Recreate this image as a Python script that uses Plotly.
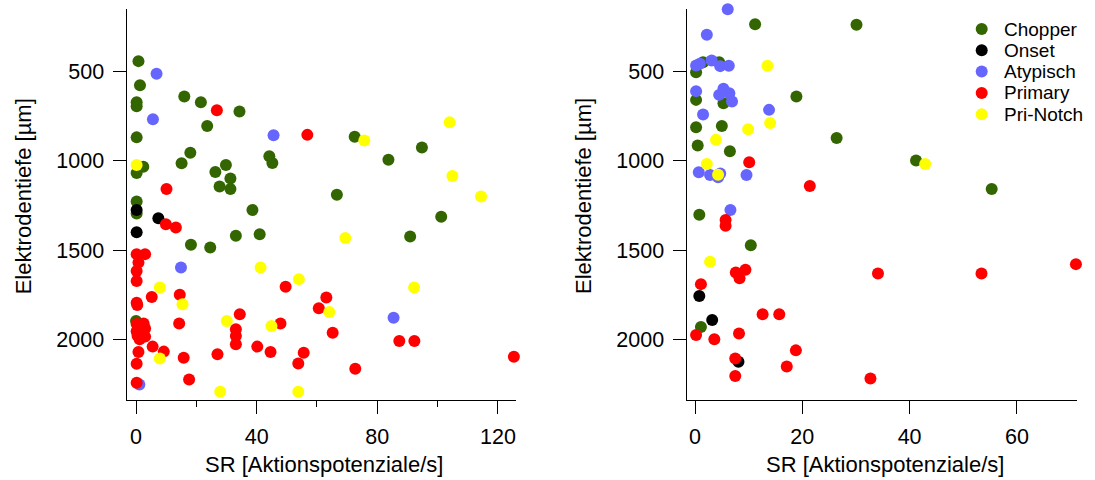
import plotly.graph_objects as go

W, H = 1095, 480
FONT = "Liberation Sans, Arial, sans-serif"

series_names = ["Chopper", "Onset", "Atypisch", "Primary", "Pri-Notch"]
series_colors = ["#336600", "#000000", "#6666FF", "#FF0000", "#FFFF00"]

# ---- left panel ----
left_chopper_x = [0.8, 1.3, 16, 21.5, 34.3, 0.2, 0.2, 23.6, 0.2, 18, 44.2, 45.2, 2.4, 0.2, 15.1, 29.8, 26.3, 31.3, 27.7, 31.3, 0.2, 38.6, 0.2, 72.5, 94.8, 83.7, 66.6, 101.2, 33.1, 41, 18.2, 24.6, 90.9, 0.0]
left_chopper_y = [442, 577, 640, 672, 724, 672, 695, 805, 869, 955, 975, 1012, 1033, 1068, 1014, 1024, 1063, 1099, 1144, 1158, 1228, 1276, 1295, 865, 926, 994, 1190, 1314, 1420, 1411, 1471, 1486, 1424, 1897]

left_onset_x = [0.2, 7.4, 0.2]
left_onset_y = [1276, 1322, 1400]

left_atyp_x = [6.8, 5.6, 45.6, 14.9, 85.4, 1.1]
left_atyp_y = [513, 768, 857, 1598, 1879, 2253]

left_prim_x = [26.8, 56.8, 10.1, 9.9, 13.2, 0.2, 3.0, 0.8, 0.2, 0.2, 49.6, 5.2, 14.5, 0.2, 0.4, 60.6, 34.4, 47.9, 14.3,
               0.2, 2.5, 0.8, 3.0, 0.2, 2.0, 0.5, 3.0, 1.2,
               33.1, 33.1, 33.1, 5.5, 9.2, 0.8, 15.8, 27, 40.2, 44.6, 55.6, 53.8, 0.2, 17.6, 0.2,
               63.1, 65.2, 87.3, 92.3, 72.7, 125.3]
left_prim_y = [717, 855, 1158, 1355, 1374, 1523, 1523, 1570, 1617, 1673, 1706, 1763, 1751, 1795, 1808, 1826, 1860, 1912, 1912,
               1915, 1912, 1935, 1940, 1955, 1960, 1980, 1985, 2000,
               1944, 1981, 2028, 2041, 2069, 2071, 2103, 2084, 2041, 2071, 2075, 2135, 2137, 2225, 2244,
               1766, 1963, 2010, 2010, 2165, 2098]

left_notch_x = [0.2, 75.7, 104, 104.9, 114.4, 41.3, 54, 7.9, 15.4, 30.1, 44.9, 7.9, 27.9, 53.8, 69.4, 92.2, 64.1]
left_notch_y = [1024, 887, 785, 1085, 1200, 1598, 1663, 1710, 1804, 1897, 1925, 2107, 2294, 2294, 1433, 1710, 1847]

# ---- right panel ----
right_chopper_x = [11.2, 30.1, 1.5, 4.5, 0.2, 0.2, 5.3, 18.9, 0.2, 5.0, 0.5, 6.5, 26.4, 41.2, 55.3, 0.8, 10.4, 1.1]
right_chopper_y = [236, 238, 448, 448, 504, 659, 678, 640, 812, 805, 915, 947, 872, 999, 1158, 1302, 1473, 1931]

right_onset_x = [0.8, 3.2, 8.1]
right_onset_y = [1757, 1892, 2126]

right_atyp_x = [6.1, 2.2, 0.2, 0.9, 3.1, 4.7, 6.3, 0.2, 5.3, 4.5, 6.4, 6.9, 13.8, 1.5, 0.7, 2.8, 4.3, 4.7, 9.6, 6.6]
right_atyp_y = [152, 294, 466, 457, 438, 470, 468, 610, 597, 631, 622, 668, 715, 741, 1065, 1080, 1093, 1071, 1080, 1276]

right_prim_x = [10.1, 21.4, 5.7, 5.7, 7.6, 8.3, 9.4, 1.1, 12.6, 15.7, 0.2, 3.6, 8.2, 18.8, 7.5, 17.1, 7.5, 34.1, 53.4, 71.0, 32.7]
right_prim_y = [1009, 1142, 1332, 1364, 1626, 1658, 1611, 1691, 1860, 1860, 1976, 2000, 1968, 2062, 2107, 2152, 2206, 1632, 1632, 1579, 2219]

right_notch_x = [13.5, 14.0, 9.9, 3.9, 2.2, 4.3, 42.9, 2.8]
right_notch_y = [468, 788, 824, 883, 1018, 1078, 1018, 1566]

x_title = "SR [Aktionspotenziale/s]"
y_title = "Elektrodentiefe [µm]"
y_tickvals = [500, 1000, 1500, 2000]
left_x_tickvals = [0, 40, 80, 120]
right_x_tickvals = [0, 20, 40, 60]

left_sets = [(left_chopper_x, left_chopper_y), (left_onset_x, left_onset_y), (left_atyp_x, left_atyp_y),
             (left_prim_x, left_prim_y), (left_notch_x, left_notch_y)]
right_sets = [(right_chopper_x, right_chopper_y), (right_onset_x, right_onset_y), (right_atyp_x, right_atyp_y),
              (right_prim_x, right_prim_y), (right_notch_x, right_notch_y)]

fig = go.Figure()
for (xs, ys), name, col in zip(left_sets, series_names, series_colors):
    fig.add_trace(go.Scatter(x=xs, y=ys, mode="markers", name=name, showlegend=False, cliponaxis=False,
                             marker=dict(size=12, color=col, line=dict(width=0)), xaxis="x", yaxis="y"))
for (xs, ys), name, col in zip(right_sets, series_names, series_colors):
    fig.add_trace(go.Scatter(x=xs, y=ys, mode="markers", name=name, showlegend=False, cliponaxis=False,
                             marker=dict(size=12, color=col, line=dict(width=0)), xaxis="x2", yaxis="y2"))

def px_x(p):
    return p / W

def px_y(p):
    return 1 - p / H

ydom = [px_y(400), px_y(9)]
common_axis = dict(showgrid=False, zeroline=False, showline=True, linecolor="black", linewidth=1.4,
                   ticks="outside", ticklen=13, tickwidth=1.4, tickcolor="black",
                   tickfont=dict(family=FONT, size=21.5, color="black"), automargin=False)

fig.update_layout(
    width=W, height=H, margin=dict(l=0, r=0, t=0, b=0),
    paper_bgcolor="white", plot_bgcolor="white", showlegend=False,
    xaxis=dict(domain=[px_x(126.7), px_x(516)], range=[-3.1, 126], tickvals=left_x_tickvals,
               minor=dict(dtick=20, tick0=0, ticklen=6, tickwidth=1.4, tickcolor="black", ticks="outside"),
               anchor="y", ticklabelstandoff=4, **common_axis),
    yaxis=dict(domain=ydom, range=[2340, 150], tickvals=y_tickvals, anchor="x", ticklabelstandoff=4, **common_axis),
    xaxis2=dict(domain=[px_x(686.7), px_x(1077)], range=[-1.55, 71.2], tickvals=right_x_tickvals,
                anchor="y2", ticklabelstandoff=4, **common_axis),
    yaxis2=dict(domain=ydom, range=[2340, 150], tickvals=y_tickvals, anchor="x2", ticklabelstandoff=4, **common_axis),
)

ann = []
for cx in (324, 885):
    ann.append(dict(x=px_x(cx), y=px_y(464), xref="paper", yref="paper", text=x_title, showarrow=False,
                    xanchor="center", yanchor="middle", font=dict(family=FONT, size=22, color="black")))
for cx in (23.3, 583):
    ann.append(dict(x=px_x(cx), y=px_y(196), xref="paper", yref="paper", text=y_title, showarrow=False,
                    textangle=-90, xanchor="center", yanchor="middle", font=dict(family=FONT, size=22, color="black")))

# manual legend
shapes = []
for i, (name, col) in enumerate(zip(series_names, series_colors)):
    cy = 29 + i * 21.3
    cxm = 981.7
    r = 6
    shapes.append(dict(type="circle", xref="paper", yref="paper", x0=px_x(cxm - r), x1=px_x(cxm + r),
                       y0=px_y(cy + r), y1=px_y(cy - r), fillcolor=col, line=dict(width=0)))
    ann.append(dict(x=px_x(1002), y=px_y(cy), xref="paper", yref="paper", text=name, showarrow=False,
                    xanchor="left", yanchor="middle", font=dict(family=FONT, size=19, color="black")))

fig.update_layout(annotations=ann, shapes=shapes)
fig.write_html("out.html")
